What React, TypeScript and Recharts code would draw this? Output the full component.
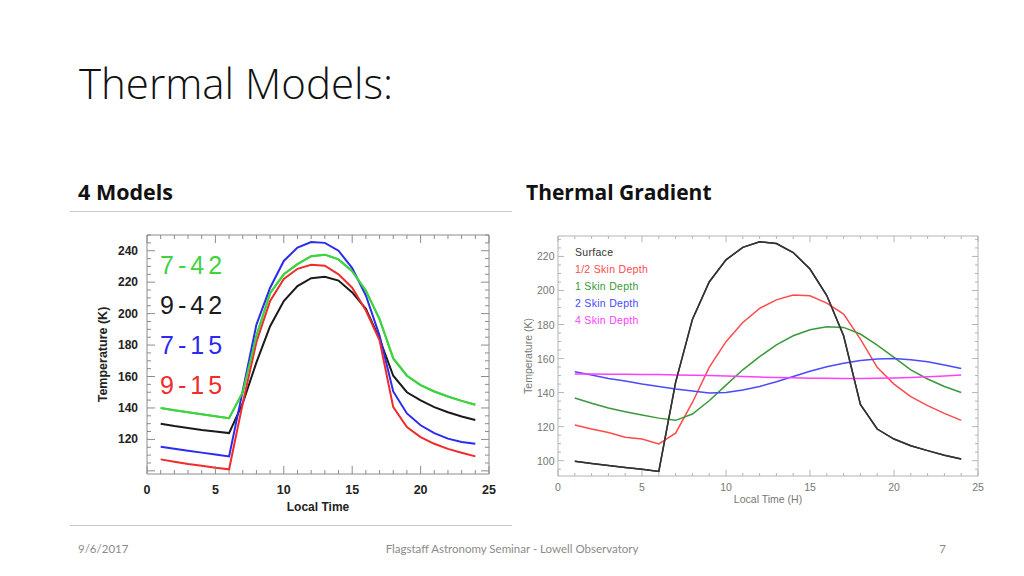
import React from 'react';
import { LineChart, Line, XAxis, YAxis, Legend } from 'recharts';

// local time (hours) shared by both panels
const hours = [1, 2, 3, 4, 5, 6, 7, 8, 9, 10, 11, 12, 13, 14, 15, 16, 17, 18, 19, 20, 21, 22, 23, 24];

// "4 Models" panel (K)
const model742 = [140, 138.5, 137.2, 136, 134.8, 133.5, 150, 186, 213, 225, 231.5, 236.5, 237.5, 234.5, 227, 214.5, 196.5, 171.5, 160.5, 154.5, 150.5, 147.3, 144.5, 142];
const model942 = [130, 128.5, 127.2, 126, 125, 124, 143, 169, 192, 208, 217.5, 222.5, 223.5, 221, 213.5, 203, 184, 160.5, 150, 144.8, 140.5, 137.3, 134.6, 132.3];
const model715 = [115.3, 114, 112.8, 111.6, 110.4, 109.2, 151, 193, 216.5, 233.5, 242, 245.5, 245, 240, 229, 211.5, 186, 150.5, 136.5, 129, 124, 120.5, 118.3, 117.2];
const model915 = [107.3, 105.8, 104.4, 103.2, 102, 101, 143, 182, 208, 222, 228.5, 231, 230.5, 225, 216.5, 202, 183, 140.5, 127.8, 121.5, 117.2, 114, 111.5, 109.2];

// "Thermal Gradient" panel (K)
const surface = [99.6, 98.4, 97.2, 96, 94.9, 93.7, 146, 183, 205, 218, 225.3, 228.6, 227.6, 222.3, 212.6, 197, 173.4, 133, 118.6, 112.7, 108.8, 105.9, 103.2, 101];
const halfSkin = [121, 118.6, 116.6, 113.8, 112.7, 109.8, 116.2, 134.2, 154.8, 169.9, 181.2, 189.5, 194.5, 197.3, 196.9, 192.6, 186.1, 171.4, 154.8, 145, 137.6, 132.3, 127.8, 123.7];
const oneSkin = [136.8, 133.7, 130.9, 128.8, 126.8, 125, 123.7, 127.4, 135.2, 144.4, 153.4, 161.1, 168.1, 173.4, 176.9, 178.7, 178.3, 174.4, 167.9, 160.7, 153.4, 148, 143.6, 140.1];
const twoSkin = [152.3, 150.3, 148.3, 146.8, 145, 143.6, 142.1, 140.9, 139.7, 140.1, 141.5, 143.6, 146.4, 149.5, 152.5, 155.2, 157.3, 158.9, 159.7, 160.1, 159.3, 158.1, 156.2, 154.2];
const fourSkin = [150.9, 150.9, 150.8, 150.8, 150.7, 150.6, 150.4, 150.2, 150, 149.7, 149.4, 149.1, 148.9, 148.7, 148.5, 148.4, 148.3, 148.3, 148.4, 148.6, 148.9, 149.3, 149.8, 150.4];

// ticks (majors get labels, the rest are minor marks on the frame)
const hourTicks = [0, 1, 2, 3, 4, 5, 6, 7, 8, 9, 10, 11, 12, 13, 14, 15, 16, 17, 18, 19, 20, 21, 22, 23, 24, 25];
const modelTempTicks = [100, 105, 110, 115, 120, 125, 130, 135, 140, 145, 150, 155, 160, 165, 170, 175, 180, 185, 190, 195, 200, 205, 210, 215, 220, 225, 230, 235, 240, 245, 250];
const gradTempTicks = [95, 100, 105, 110, 115, 120, 125, 130, 135, 140, 145, 150, 155, 160, 165, 170, 175, 180, 185, 190, 195, 200, 205, 210, 215, 220, 225, 230];

const modelSeries = [
  { key: 'm742', name: '7-42', color: '#3fd33f', values: model742 },
  { key: 'm942', name: '9-42', color: '#1a1a1a', values: model942 },
  { key: 'm715', name: '7-15', color: '#2b2bf0', values: model715 },
  { key: 'm915', name: '9-15', color: '#f02b2b', values: model915 },
];

const gradSeries = [
  { key: 'surf', name: 'Surface', color: '#333333', values: surface },
  { key: 'half', name: '1/2 Skin Depth', color: '#ff4a4a', values: halfSkin },
  { key: 'one', name: '1 Skin Depth', color: '#3a9a3a', values: oneSkin },
  { key: 'two', name: '2 Skin Depth', color: '#4a4aff', values: twoSkin },
  { key: 'four', name: '4 Skin Depth', color: '#ff40ff', values: fourSkin },
];

const modelData = hours.map((h, i) => {
  const row: any = { hour: h };
  modelSeries.forEach((s) => (row[s.key] = s.values[i]));
  return row;
});

const gradData = hours.map((h, i) => {
  const row: any = { hour: h };
  gradSeries.forEach((s) => (row[s.key] = s.values[i]));
  return row;
});

type TickCfg = {
  side: 'bottom' | 'top' | 'left' | 'right';
  step: number;
  majorLen: number;
  minorLen: number;
  gap?: number;
  labelFrom?: number;
  labelTo?: number;
  stroke: string;
  font?: any;
};

// ticks are drawn inward from the frame, IDL style
const frameTick = (cfg: TickCfg) => (p: any) => {
  const v = p.payload.value;
  const major = Math.abs(v % cfg.step) < 1e-6;
  const len = major ? cfg.majorLen : cfg.minorLen;
  const { x, y } = p;
  const show =
    major && cfg.font && (cfg.labelFrom === undefined || v >= cfg.labelFrom) && (cfg.labelTo === undefined || v <= cfg.labelTo);
  let x2 = x;
  let y2 = y;
  let label = null;
  if (cfg.side === 'bottom') {
    y2 = y - len;
    if (show)
      label = (
        <text x={x} y={y + (cfg.gap || 0)} textAnchor="middle" dominantBaseline="central" style={cfg.font}>
          {v}
        </text>
      );
  } else if (cfg.side === 'top') {
    y2 = y + len;
  } else if (cfg.side === 'left') {
    x2 = x + len;
    if (show)
      label = (
        <text x={x - (cfg.gap || 0)} y={y} textAnchor="end" dominantBaseline="central" style={cfg.font}>
          {v}
        </text>
      );
  } else {
    x2 = x - len;
  }
  return (
    <g>
      <line x1={x} y1={y} x2={x2} y2={y2} stroke={cfg.stroke} strokeWidth={1} />
      {label}
    </g>
  );
};

const xTitle = (text: string, dy: number, font: any) => (p: any) => {
  const vb = p.viewBox;
  return (
    <text x={vb.x + vb.width / 2} y={vb.y + dy} textAnchor="middle" dominantBaseline="central" style={font}>
      {text}
    </text>
  );
};

const yTitle = (text: string, dx: number, font: any) => (p: any) => {
  const vb = p.viewBox;
  const cx = vb.x + dx;
  const cy = vb.y + vb.height / 2;
  return (
    <text x={cx} y={cy} transform={`rotate(-90, ${cx}, ${cy})`} textAnchor="middle" dominantBaseline="central" style={font}>
      {text}
    </text>
  );
};

const modelFont = { fontFamily: '"Liberation Sans", Arial, sans-serif', fontWeight: 700, fontSize: 12, fill: '#222' };
const gradFont = { fontFamily: '"Liberation Sans", Arial, sans-serif', fontSize: 10.5, fill: '#777' };

function ModelsChart() {
  const frame = '#8c8c8c';
  const first = modelSeries[0];
  return (
    <LineChart width={410} height={300} data={modelData} margin={{ top: 9, right: 10, bottom: 0, left: 0 }}>
      <XAxis
        dataKey="hour"
        type="number"
        domain={[0, 25]}
        ticks={hourTicks}
        interval={0}
        allowDataOverflow
        height={51}
        tickSize={0}
        tickMargin={0}
        tickLine={false}
        axisLine={{ stroke: frame }}
        tick={frameTick({ side: 'bottom', step: 5, majorLen: 8, minorLen: 4, gap: 16, stroke: frame, font: { ...modelFont, fontSize: 12.5 } })}
        label={xTitle('Local Time', 32.5, modelFont)}
      />
      <XAxis
        xAxisId="top"
        orientation="top"
        dataKey="hour"
        type="number"
        domain={[0, 25]}
        ticks={hourTicks}
        interval={0}
        allowDataOverflow
        height={1}
        tickSize={0}
        tickMargin={0}
        tickLine={false}
        axisLine={{ stroke: frame }}
        tick={frameTick({ side: 'top', step: 5, majorLen: 8, minorLen: 4, stroke: frame })}
      />
      <YAxis
        type="number"
        domain={[98, 250]}
        ticks={modelTempTicks}
        interval={0}
        allowDataOverflow
        width={57}
        tickSize={0}
        tickMargin={0}
        tickLine={false}
        axisLine={{ stroke: frame }}
        tick={frameTick({ side: 'left', step: 20, majorLen: 8, minorLen: 4, gap: 9, labelFrom: 120, labelTo: 240, stroke: frame, font: modelFont })}
        label={yTitle('Temperature (K)', 13, { ...modelFont, fontSize: 12.5 })}
      />
      <YAxis
        yAxisId="right"
        orientation="right"
        type="number"
        domain={[98, 250]}
        ticks={modelTempTicks}
        interval={0}
        allowDataOverflow
        width={1}
        tickSize={0}
        tickMargin={0}
        tickLine={false}
        axisLine={{ stroke: frame }}
        tick={frameTick({ side: 'right', step: 20, majorLen: 8, minorLen: 4, stroke: frame })}
      />
      <Legend
        layout="vertical"
        align="center"
        verticalAlign="middle"
        wrapperStyle={{ left: 70, top: 20, width: 'auto', height: 'auto' }}
        content={() => (
          <div>
            {modelSeries.map((s) => (
              <div
                key={s.key}
                style={{
                  color: s.color,
                  fontFamily: '"Liberation Sans", Arial, sans-serif',
                  fontSize: 25,
                  lineHeight: '40px',
                  letterSpacing: 4,
                }}
              >
                {s.name}
              </div>
            ))}
          </div>
        )}
      />
      {modelSeries.map((s) => (
        <Line key={s.key} type="linear" dataKey={s.key} name={s.name} stroke={s.color} strokeWidth={2} dot={false} isAnimationActive={false} />
      ))}
      {/* same series on the mirrored axes keeps the top/right frame drawn; identical domains so it overlays exactly */}
      <Line
        xAxisId="top"
        yAxisId="right"
        type="linear"
        dataKey={first.key}
        stroke={first.color}
        strokeWidth={2}
        dot={false}
        legendType="none"
        isAnimationActive={false}
      />
    </LineChart>
  );
}

function GradientChart() {
  const frame = '#b4b4b4';
  const first = gradSeries[0];
  return (
    <LineChart width={480} height={290} data={gradData} margin={{ top: 10, right: 16, bottom: 0, left: 0 }}>
      <XAxis
        dataKey="hour"
        type="number"
        domain={[0, 25]}
        ticks={hourTicks}
        interval={0}
        allowDataOverflow
        height={39}
        tickSize={0}
        tickMargin={0}
        tickLine={false}
        axisLine={{ stroke: frame }}
        tick={frameTick({ side: 'bottom', step: 5, majorLen: 6, minorLen: 3, gap: 11, stroke: frame, font: gradFont })}
        label={xTitle('Local Time (H)', 22.5, gradFont)}
      />
      <XAxis
        xAxisId="top"
        orientation="top"
        dataKey="hour"
        type="number"
        domain={[0, 25]}
        ticks={hourTicks}
        interval={0}
        allowDataOverflow
        height={1}
        tickSize={0}
        tickMargin={0}
        tickLine={false}
        axisLine={{ stroke: frame }}
        tick={frameTick({ side: 'top', step: 5, majorLen: 6, minorLen: 3, stroke: frame })}
      />
      <YAxis
        type="number"
        domain={[91, 232]}
        ticks={gradTempTicks}
        interval={0}
        allowDataOverflow
        width={43}
        tickSize={0}
        tickMargin={0}
        tickLine={false}
        axisLine={{ stroke: frame }}
        tick={frameTick({ side: 'left', step: 20, majorLen: 6, minorLen: 3, gap: 3.5, labelFrom: 100, labelTo: 220, stroke: frame, font: gradFont })}
        label={yTitle('Temperature (K)', 12.7, gradFont)}
      />
      <YAxis
        yAxisId="right"
        orientation="right"
        type="number"
        domain={[91, 232]}
        ticks={gradTempTicks}
        interval={0}
        allowDataOverflow
        width={1}
        tickSize={0}
        tickMargin={0}
        tickLine={false}
        axisLine={{ stroke: frame }}
        tick={frameTick({ side: 'right', step: 20, majorLen: 6, minorLen: 3, stroke: frame })}
      />
      <Legend
        layout="vertical"
        align="center"
        verticalAlign="middle"
        wrapperStyle={{ left: 60, top: 18.5, width: 'auto', height: 'auto' }}
        content={() => (
          <div>
            {gradSeries.map((s) => (
              <div
                key={s.key}
                style={{
                  color: s.color,
                  fontFamily: '"Liberation Sans", Arial, sans-serif',
                  fontSize: 10.5,
                  lineHeight: '17px',
                  letterSpacing: 0.3,
                }}
              >
                {s.name}
              </div>
            ))}
          </div>
        )}
      />
      {gradSeries.map((s) => (
        <Line key={s.key} type="linear" dataKey={s.key} name={s.name} stroke={s.color} strokeWidth={1.5} dot={false} isAnimationActive={false} />
      ))}
      <Line
        xAxisId="top"
        yAxisId="right"
        type="linear"
        dataKey={first.key}
        stroke={first.color}
        strokeWidth={1.5}
        dot={false}
        legendType="none"
        isAnimationActive={false}
      />
    </LineChart>
  );
}

export default function App() {
  return (
    <div
      style={{
        position: 'absolute',
        left: 0,
        top: 0,
        width: 1024,
        height: 576,
        background: '#fff',
        overflow: 'hidden',
      }}
    >
      <svg width={1024} height={576} style={{ position: 'absolute', left: 0, top: 0 }}>
        <text x={79} y={99} style={{ fontFamily: '"Open Sans", sans-serif', fontWeight: 300, fontSize: 42, fill: '#111' }}>
          Thermal Models:
        </text>
        <text x={78} y={200} style={{ fontFamily: '"Open Sans", sans-serif', fontWeight: 700, fontSize: 21.5, fill: '#111' }}>
          4 Models
        </text>
        <text x={526} y={200} style={{ fontFamily: '"Open Sans", sans-serif', fontWeight: 700, fontSize: 21, fill: '#111' }}>
          Thermal Gradient
        </text>
        <line x1={70} y1={211.5} x2={512} y2={211.5} stroke="#c8c8c8" strokeWidth={1} />
        <line x1={70} y1={525.5} x2={512} y2={525.5} stroke="#c8c8c8" strokeWidth={1} />
        <g style={{ fontFamily: 'Lato, sans-serif', fontSize: 11.5, fill: '#8b8b8b' }}>
          <text x={78} y={553}>9/6/2017</text>
          <text x={512} y={553} textAnchor="middle">
            Flagstaff Astronomy Seminar - Lowell Observatory
          </text>
          <text x={946} y={553} textAnchor="end">
            7
          </text>
        </g>
      </svg>
      <div style={{ position: 'absolute', left: 90, top: 225 }}>
        <ModelsChart />
      </div>
      <div style={{ position: 'absolute', left: 515, top: 225 }}>
        <GradientChart />
      </div>
    </div>
  );
}
